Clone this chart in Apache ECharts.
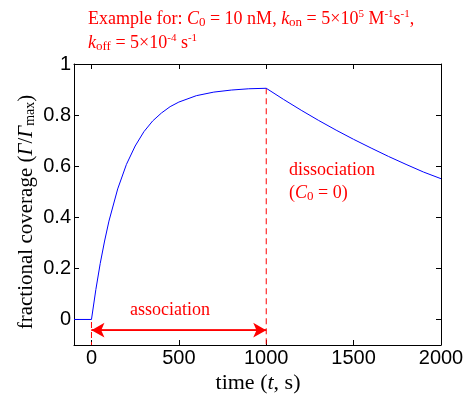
<!DOCTYPE html>
<html><head><meta charset="utf-8">
<script src="https://cdn.jsdelivr.net/npm/echarts@6/dist/echarts.min.js"></script>
<style>html,body{margin:0;padding:0;background:#fff}#c{width:471px;height:399px}</style>
</head><body><div id="c"></div>
<script>
// Data
const time = [-100, 0, 25, 50, 75, 100, 150, 200, 250, 300, 350, 400, 450, 500, 600, 700, 800, 900, 1000,
  1100, 1200, 1300, 1400, 1500, 1600, 1700, 1800, 1900, 2000];
const coverage = [0, 0, 0.117, 0.219, 0.307, 0.385, 0.511, 0.607, 0.679, 0.735, 0.777, 0.808, 0.833, 0.851, 0.876, 0.890, 0.898, 0.903, 0.905,
  0.861, 0.819, 0.779, 0.741, 0.705, 0.671, 0.638, 0.607, 0.577, 0.551];
const xTicks = [0, 500, 1000, 1500, 2000];
const yTicks = [0, 0.2, 0.4, 0.6, 0.8, 1];
const dissocLine = [[1000, 0.905], [1000, -0.1]];
const startLine = [[0, -0.01], [0, -0.1]];
const arrowY = -0.042;
const arrowX = [0, 1000];

const red = '#ff0000';
const serif = '"Liberation Serif", "Times New Roman", serif';
const sans = '"Liberation Sans", Arial, sans-serif';

const chart = echarts.init(document.getElementById('c'));
const axisBase = {
  type: 'value', min: -100, max: 2000,
  axisLine: {show: true, onZero: false, lineStyle: {color: '#000', width: 1}},
  splitLine: {show: false},
  axisTick: {show: true, inside: true, length: 5, customValues: xTicks, lineStyle: {color: '#000'}},
};
const yBase = {
  type: 'value', min: -0.1, max: 1,
  axisLine: {show: true, onZero: false, lineStyle: {color: '#000', width: 1}},
  splitLine: {show: false},
  axisTick: {show: true, inside: true, length: 5, customValues: yTicks, lineStyle: {color: '#000'}},
};
const FS = 18;
const sub = {fontFamily: serif, fontSize: 13, color: red, verticalAlign: 'bottom', padding: [7, 0, 0, 0]};
const sup = {fontFamily: serif, fontSize: 11, color: red, verticalAlign: 'top', padding: [0, 0, 7, 0]};
const norm = {fontFamily: serif, fontSize: FS, color: red};
const ital = {fontFamily: serif, fontSize: FS, color: red, fontStyle: 'italic'};

chart.setOption({
  animation: false,
  grid: {left: 74, right: 30, top: 64, bottom: 54},
  xAxis: [
    Object.assign({}, axisBase, {position: 'bottom',
      axisLabel: {show: true, customValues: xTicks, color: '#000', fontFamily: sans, fontSize: 20, margin: 3,
        formatter: v => String(v)}}),
    Object.assign({}, axisBase, {position: 'top', axisLabel: {show: false}})
  ],
  yAxis: [
    Object.assign({}, yBase, {position: 'left',
      axisLabel: {show: true, customValues: yTicks, color: '#000', fontFamily: sans, fontSize: 20, margin: 3,
        formatter: v => String(Math.round(v * 10) / 10)}}),
    Object.assign({}, yBase, {position: 'right', axisLabel: {show: false}})
  ],
  series: [
    {type: 'line', data: startLine, symbol: 'none', silent: true,
      lineStyle: {color: red, width: 1, type: [6, 4]}},
    {type: 'line', data: dissocLine, symbol: 'none', silent: true,
      lineStyle: {color: red, width: 1, type: [6, 4]}},
    {type: 'line', data: time.map((t, i) => [t, coverage[i]]), symbol: 'none',
      lineStyle: {color: '#0000ff', width: 1}},
    {type: 'line', data: arrowX.map(x => [x, arrowY]), symbol: 'none',
      lineStyle: {color: red, width: 1.5},
      markLine: {silent: true, symbol: ['arrow', 'arrow'], symbolSize: [11, 13],
        lineStyle: {color: red, width: 1.5, type: 'solid'}, label: {show: false},
        data: [[{coord: [arrowX[0], arrowY]}, {coord: [arrowX[1], arrowY]}]]}}
  ],
  graphic: [
    {type: 'text', left: 88, top: 9, style: {
      text: 'Example for: {i|C}{s|0} = 10 nM, {i|k}{s|on} = 5×10{p|5} M{p|-1}s{p|-1},',
      font: FS + 'px ' + serif, fill: red, rich: {i: ital, s: sub, p: sup, n: norm}}},
    {type: 'text', left: 88, top: 33, style: {
      text: '{i|k}{s|off} = 5×10{p|-4} s{p|-1}',
      font: FS + 'px ' + serif, fill: red, rich: {i: ital, s: sub, p: sup, n: norm}}},
    {type: 'text', x: 170, y: 310, style: {text: 'association', font: FS + 'px ' + serif, fill: red,
      align: 'center', verticalAlign: 'middle'}},
    {type: 'text', x: 289, y: 170, style: {text: 'dissociation', font: FS + 'px ' + serif, fill: red,
      align: 'left', verticalAlign: 'middle'}},
    {type: 'text', x: 289, y: 193, style: {text: '({i|C}{s|0} = 0)', font: FS + 'px ' + serif, fill: red,
      align: 'left', verticalAlign: 'middle', rich: {i: ital, s: sub, n: norm}}},
    {type: 'text', x: 258, y: 383, style: {text: 'time ({it|t}, s)', font: '22px ' + serif, fill: '#000',
      align: 'center', verticalAlign: 'middle',
      rich: {it: {fontFamily: serif, fontSize: 22, fontStyle: 'italic', color: '#000'}}}},
    {type: 'text', x: 26, y: 212, rotation: Math.PI / 2, style: {
      text: 'fractional coverage ({it|Γ}/{it|Γ}{sb|max})', font: '21px ' + serif, fill: '#000',
      align: 'center', verticalAlign: 'middle',
      rich: {it: {fontFamily: serif, fontSize: 21, fontStyle: 'italic', color: '#000'},
        sb: {fontFamily: serif, fontSize: 14, color: '#000', verticalAlign: 'bottom', padding: [8, 0, 0, 0]}}}}
  ]
});
</script></body></html>
